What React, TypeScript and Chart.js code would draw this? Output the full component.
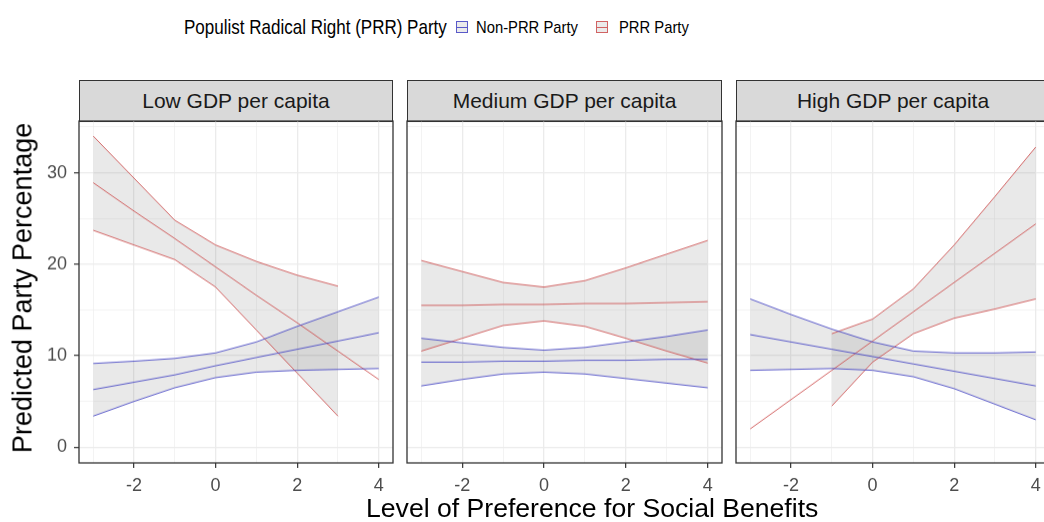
import React, { useEffect, useRef } from "react";
import { Chart, registerables } from "chart.js";

Chart.register(...registerables);

const FONT = '"Liberation Sans", Arial, Helvetica, sans-serif';

// ---------- data ----------
const panelTitles = ["Low GDP per capita", "Medium GDP per capita", "High GDP per capita"];
const xTickValues = [-3, -2, -1, 0, 1, 2, 3, 4];
const yTickValues = [0, 5, 10, 15, 20, 25, 30, 35];

const xAll = [-3, -2, -1, 0, 1, 2, 3, 4];
const xLowPrrBand = [-3, -2, -1, 0, 1, 2, 3];
const xHighPrrBand = [-1, 0, 1, 2, 3, 4];

// Low GDP per capita
const lowPrrMean = [28.9, 25.8, 22.8, 19.7, 16.6, 13.6, 10.5, 7.4];
const lowPrrUpper = [34.0, 29.4, 24.8, 22.1, 20.3, 18.8, 17.6];
const lowPrrLower = [23.7, 22.1, 20.5, 17.5, 12.8, 8.1, 3.4];
const lowNonMean = [6.3, 7.1, 7.9, 8.9, 9.8, 10.7, 11.6, 12.5];
const lowNonUpper = [9.15, 9.4, 9.7, 10.3, 11.5, 13.2, 14.8, 16.4];
const lowNonLower = [3.4, 5.0, 6.5, 7.6, 8.2, 8.4, 8.5, 8.6];

// Medium GDP per capita
const medPrrMean = [15.5, 15.5, 15.6, 15.6, 15.7, 15.7, 15.8, 15.9];
const medPrrUpper = [20.4, 19.2, 18.0, 17.5, 18.2, 19.6, 21.1, 22.6];
const medPrrLower = [10.5, 11.9, 13.3, 13.8, 13.2, 11.9, 10.5, 9.2];
const medNonMean = [9.3, 9.3, 9.4, 9.4, 9.5, 9.5, 9.6, 9.6];
const medNonUpper = [11.9, 11.4, 10.9, 10.6, 10.9, 11.5, 12.1, 12.8];
const medNonLower = [6.7, 7.4, 8.0, 8.2, 8.0, 7.5, 7.0, 6.5];

// High GDP per capita
const highPrrMean = [2.0, 5.2, 8.4, 11.6, 14.8, 18.0, 21.2, 24.4];
const highPrrUpper = [12.4, 14.0, 17.3, 22.1, 27.4, 32.8];
const highPrrLower = [4.5, 9.3, 12.4, 14.1, 15.1, 16.2];
const highNonMean = [12.3, 11.5, 10.7, 9.9, 9.1, 8.3, 7.5, 6.7];
const highNonUpper = [16.2, 14.5, 12.9, 11.5, 10.5, 10.3, 10.3, 10.4];
const highNonLower = [8.4, 8.5, 8.6, 8.4, 7.7, 6.4, 4.7, 3.0];

// ---------- styles ----------
const BLUE = "rgba(65,65,195,0.85)";
const RED = "rgba(205,75,75,0.85)";
const RIBBON = "rgba(100,100,100,0.14)";

const X_MIN = -3.35;
const X_MAX = 4.35;
const Y_MIN = -1.72;
const Y_MAX = 35.65;

const PANEL_TOP = 121;
const PANEL_H = 341.5;
const X_AXIS_H = 40;
const panelGeo = [
  { left: 79, width: 314, yW: 79 },
  { left: 407, width: 315, yW: 2 },
  { left: 736, width: 314, yW: 2 },
];

const pts = (xs: number[], ys: number[]) => xs.map((x, i) => ({ x, y: ys[i] }));

function bandSets(xBand: number[], upper: number[], lower: number[], xMean: number[], mean: number[], color: string) {
  const base = { pointRadius: 0, borderWidth: 1, tension: 0, borderColor: color };
  return [
    { ...base, data: pts(xBand, upper), fill: "+1", backgroundColor: RIBBON },
    { ...base, data: pts(xBand, lower), fill: false },
    { ...base, data: pts(xMean, mean), fill: false },
  ];
}

const panelDatasets = [
  [
    ...bandSets(xAll, lowNonUpper, lowNonLower, xAll, lowNonMean, BLUE),
    ...bandSets(xLowPrrBand, lowPrrUpper, lowPrrLower, xAll, lowPrrMean, RED),
  ],
  [
    ...bandSets(xAll, medNonUpper, medNonLower, xAll, medNonMean, BLUE),
    ...bandSets(xAll, medPrrUpper, medPrrLower, xAll, medPrrMean, RED),
  ],
  [
    ...bandSets(xAll, highNonUpper, highNonLower, xAll, highNonMean, BLUE),
    ...bandSets(xHighPrrBand, highPrrUpper, highPrrLower, xAll, highPrrMean, RED),
  ],
];

const borderPlugin = {
  id: "panelBorder",
  afterDraw(chart: any) {
    const { ctx, chartArea } = chart;
    ctx.save();
    ctx.strokeStyle = "#333333";
    ctx.lineWidth = 1.3;
    ctx.strokeRect(chartArea.left, chartArea.top, chartArea.right - chartArea.left, chartArea.bottom - chartArea.top);
    ctx.restore();
  },
};

const zeroPad = (s: any) => {
  s.paddingTop = 0;
  s.paddingBottom = 0;
  s.paddingLeft = 0;
  s.paddingRight = 0;
};

function Panel({ idx }: { idx: number }) {
  const ref = useRef<HTMLCanvasElement | null>(null);
  const g = panelGeo[idx];
  const showY = idx === 0;
  const cw = g.yW + g.width + 2;
  const ch = 2 + PANEL_H + X_AXIS_H;
  useEffect(() => {
    if (!ref.current) return;
    const chart = new Chart(ref.current, {
      type: "line",
      data: { datasets: panelDatasets[idx] as any },
      options: {
        animation: false,
        responsive: false,
        devicePixelRatio: 1,
        layout: { padding: { left: 0, top: 2, right: 2, bottom: 0 } },
        plugins: {
          legend: { display: false },
          tooltip: { enabled: false },
          filler: { propagate: false, drawTime: "beforeDatasetsDraw" },
        } as any,
        scales: {
          x: {
            type: "linear",
            min: X_MIN,
            max: X_MAX,
            afterBuildTicks: (s: any) => {
              s.ticks = xTickValues.map((v) => ({ value: v }));
            },
            afterFit: (s: any) => {
              s.height = X_AXIS_H;
              zeroPad(s);
            },
            border: { display: false },
            grid: {
              color: "#ebebeb",
              lineWidth: (c: any) => (c.tick && c.tick.value % 2 === 0 ? 1.3 : 0.6),
              drawTicks: true,
              tickLength: 5,
              tickWidth: 1.2,
              tickColor: (c: any) => (c.tick && c.tick.value % 2 === 0 ? "#333333" : "rgba(0,0,0,0)"),
            },
            ticks: {
              autoSkip: false,
              maxRotation: 0,
              padding: 7,
              color: "#4d4d4d",
              font: { family: FONT, size: 18 },
              callback: (v: any) => (Number(v) % 2 === 0 ? String(v) : ""),
            },
          },
          y: {
            type: "linear",
            min: Y_MIN,
            max: Y_MAX,
            afterBuildTicks: (s: any) => {
              s.ticks = yTickValues.map((v) => ({ value: v }));
            },
            afterFit: (s: any) => {
              s.width = g.yW;
              zeroPad(s);
            },
            border: { display: false },
            grid: {
              color: "#ebebeb",
              lineWidth: (c: any) => (c.tick && c.tick.value % 10 === 0 ? 1.3 : 0.6),
              drawTicks: showY,
              tickLength: 5,
              tickWidth: 1.2,
              tickColor: (c: any) => (c.tick && c.tick.value % 10 === 0 ? "#333333" : "rgba(0,0,0,0)"),
            },
            ticks: {
              display: showY,
              autoSkip: false,
              padding: 7,
              color: "#4d4d4d",
              font: { family: FONT, size: 18 },
              callback: (v: any) => (Number(v) % 10 === 0 ? String(v) : ""),
            },
          },
        },
      },
      plugins: [borderPlugin],
    });
    return () => chart.destroy();
  }, []);
  return (
    <canvas
      ref={ref}
      width={cw}
      height={ch}
      style={{ position: "absolute", left: g.left - g.yW, top: PANEL_TOP - 2, width: cw, height: ch }}
    />
  );
}

function Strip({ idx }: { idx: number }) {
  const g = panelGeo[idx];
  return (
    <div
      style={{
        position: "absolute",
        left: g.left,
        top: 80,
        width: g.width,
        height: 41.5,
        boxSizing: "border-box",
        background: "#d9d9d9",
        border: "1.3px solid #333333",
        display: "flex",
        alignItems: "center",
        justifyContent: "center",
        fontFamily: FONT,
        fontSize: 21,
        color: "#1a1a1a",
        whiteSpace: "nowrap",
      }}
    >
      {panelTitles[idx]}
    </div>
  );
}

function Key({ left, color }: { left: number; color: string }) {
  return (
    <div
      style={{
        position: "absolute",
        left,
        top: 21,
        width: 12,
        height: 12,
        boxSizing: "border-box",
        background: "#ebebeb",
        border: `1px solid ${color}`,
      }}
    >
      <div style={{ position: "absolute", left: 0, right: 0, top: 4.5, height: 1, background: color }} />
    </div>
  );
}

function Text({ left, top, size, width, children }: any) {
  return (
    <div
      style={{
        position: "absolute",
        left,
        top,
        fontFamily: FONT,
        fontSize: size,
        lineHeight: 1,
        color: "#000000",
        whiteSpace: "nowrap",
        transformOrigin: "left top",
        transform: width ? `scaleX(${width})` : undefined,
      }}
    >
      {children}
    </div>
  );
}

export default function App() {
  return (
    <div
      style={{
        position: "absolute",
        left: 0,
        top: 0,
        width: 1044,
        height: 522,
        overflow: "hidden",
        background: "#ffffff",
      }}
    >
      <Text left={184} top={16} size={21} width={0.81}>Populist Radical Right (PRR) Party</Text>
      <Key left={456} color={BLUE} />
      <Text left={476} top={19} size={17} width={0.87}>Non-PRR Party</Text>
      <Key left={596} color={RED} />
      <Text left={619} top={19} size={17} width={0.87}>PRR Party</Text>

      {[0, 1, 2].map((i) => (
        <Strip key={"s" + i} idx={i} />
      ))}
      {[0, 1, 2].map((i) => (
        <Panel key={"p" + i} idx={i} />
      ))}

      <div
        style={{
          position: "absolute",
          left: 23,
          top: 288,
          transform: "translate(-50%, -50%) rotate(-90deg)",
          fontFamily: FONT,
          fontSize: 27,
          lineHeight: 1,
          whiteSpace: "nowrap",
          color: "#000000",
        }}
      >
        Predicted Party Percentage
      </div>
      <Text left={366} top={494.5} size={26.6}>Level of Preference for Social Benefits</Text>
    </div>
  );
}
